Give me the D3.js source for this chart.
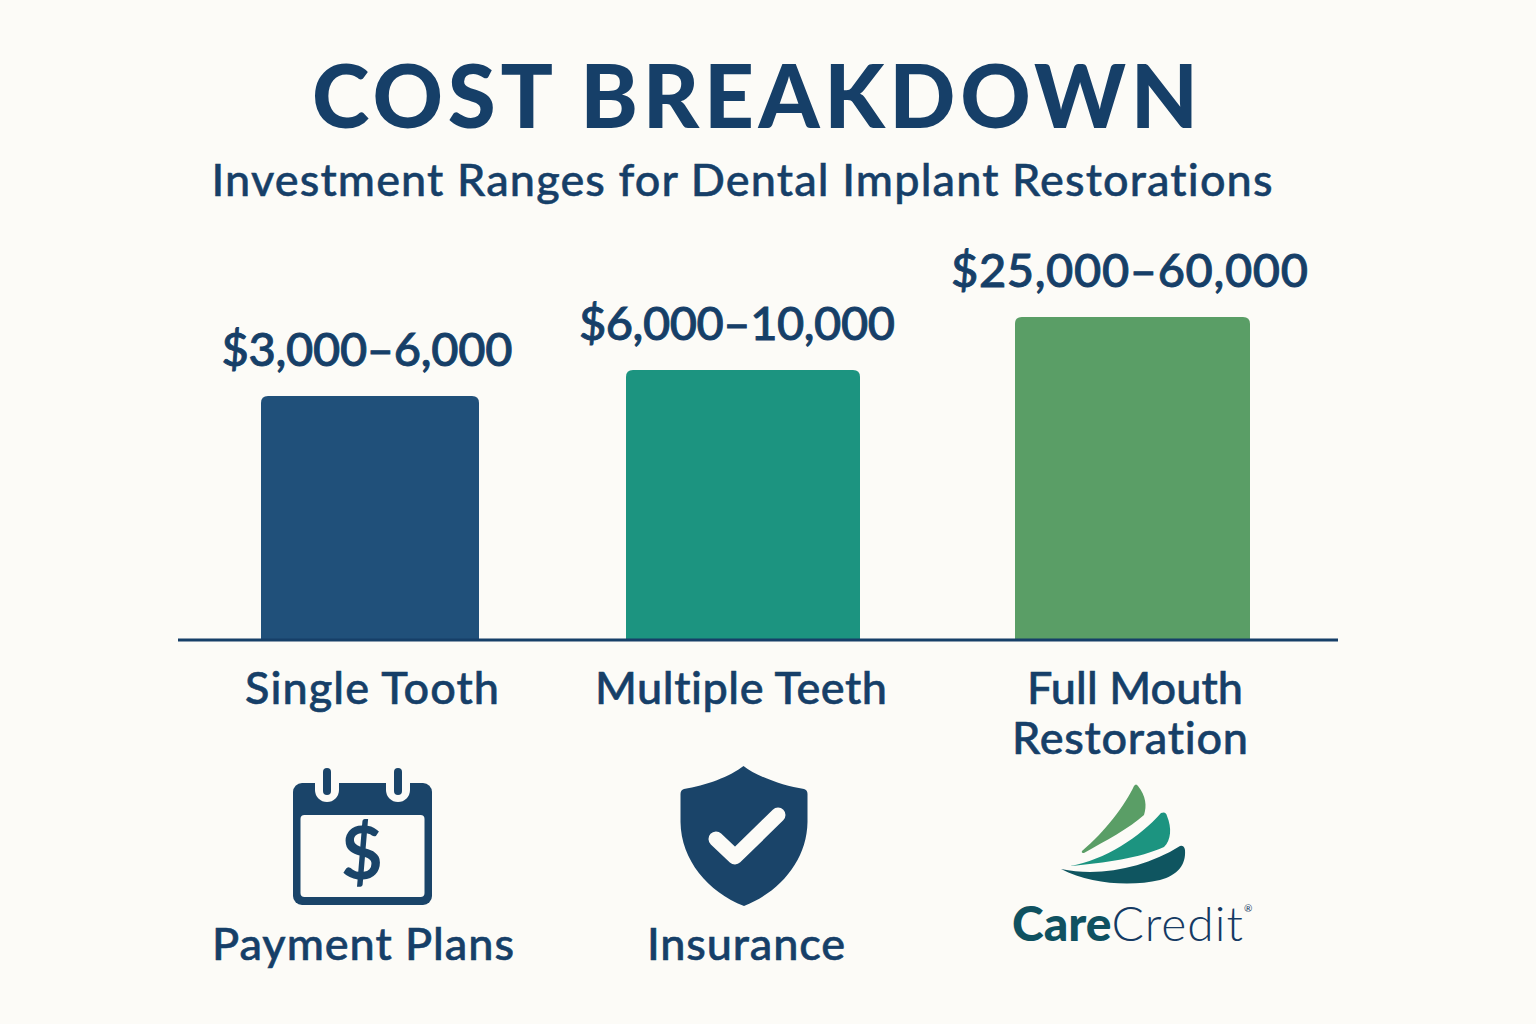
<!DOCTYPE html>
<html><head><meta charset="utf-8">
<script src="https://cdn.jsdelivr.net/npm/d3@7"></script>
<style>html,body{margin:0;padding:0;background:#fcfbf7}svg{display:block}text{font-family:Lato,"Noto Sans",sans-serif;font-variant-ligatures:none;font-feature-settings:"liga" 0}</style>
</head><body><svg id="c" width="1536" height="1024"></svg>
<script>
const titleText = "COST BREAKDOWN";
const subtitleText = "Investment Ranges for Dental Implant Restorations";
const categories = ["Single Tooth","Multiple Teeth","Full Mouth"];
const categoryLines = [["Single Tooth"],["Multiple Teeth"],["Full Mouth","Restoration"]];
const rangeLabels = ["$3,000–6,000","$6,000–10,000","$25,000–60,000"];
const barHeights = [243,269,322]; // relative bar height as drawn; not proportional to dollars
const barColors = ["#20507a","#1c9480","#5a9e66"];
const footerLabels = ["Payment Plans","Insurance"];

const NAVY="#163f68", BG="#fcfbf7";
const svg=d3.select("#c");
svg.append("rect").attr("width",1536).attr("height",1024).attr("fill",BG);

function label(x,y,str,size,weight,len,thick){
  return svg.append("text").attr("x",x).attr("y",y).attr("text-anchor","middle")
    .attr("font-size",size).attr("font-weight",weight).attr("fill",NAVY)
    .attr("stroke",NAVY).attr("stroke-width",thick||0)
    .attr("textLength",len).attr("lengthAdjust","spacing").text(str);
}
label(755,128,titleText,87,900,886,0);
label(742,196,subtitleText,45,500,1061,0.5);

const xLeft=d3.scaleOrdinal().domain(categories).range([261,626,1015]);
const xRight=d3.scaleOrdinal().domain(categories).range([479,860,1250]);
const y=d3.scaleLinear().domain([0,322]).range([639,317]);
const base=y(0);

categories.forEach((c,i)=>{
  const x0=xLeft(c),x1=xRight(c),t=y(barHeights[i]),r=7;
  svg.append("path").attr("fill",barColors[i])
   .attr("d",`M${x0},${base}V${t+r}Q${x0},${t} ${x0+r},${t}H${x1-r}Q${x1},${t} ${x1},${t+r}V${base}Z`);
});
svg.append("line").attr("x1",178).attr("x2",1338).attr("y1",base+1).attr("y2",base+1).attr("stroke",NAVY).attr("stroke-width",3);

const labelCx=[367,737,1129.5], labelLen=[291,316,357];
rangeLabels.forEach((s,i)=>label(labelCx[i],y(barHeights[i])-30,s,47,500,labelLen[i],0.9));

const catCx=[[372],[741],[1135,1130]], catLen=[[254],[292],[216,236]];
categoryLines.forEach((ls,i)=>ls.forEach((s,j)=>label(catCx[i][j],704+j*50,s,45,500,catLen[i][j],0.6)));

label(363,960,footerLabels[0],45,500,302,0.6);
label(746,960,footerLabels[1],45,500,198,0.6);

// calendar icon
const ICON="#1a4469";
const cal=svg.append("g");
cal.append("rect").attr("x",293).attr("y",783).attr("width",139).attr("height",122).attr("rx",9).attr("fill",ICON);
cal.append("rect").attr("x",300.5).attr("y",815).attr("width",124).attr("height",82).attr("rx",4).attr("fill",BG);
[327,398].forEach(cx=>{
  cal.append("path").attr("fill",BG).attr("d",`M${cx-12},780V790A12,12 0 0 0 ${cx+12},790V780Z`);
  cal.append("rect").attr("x",cx-4).attr("y",768).attr("width",8).attr("height",27).attr("rx",4).attr("fill",ICON);
});
svg.append("text").attr("x",362).attr("y",879).attr("text-anchor","middle").attr("font-size",72).attr("font-weight",700).attr("fill",ICON).text("$");

// shield icon
svg.append("path").attr("fill",ICON)
 .attr("d","M743.5,766C731,776 705,786 684,789Q680.5,790 680.5,794V822C681,860 708,892 744,906C780,892 807,860 807.5,822V794Q807.5,790 804,789C783,786 756,776 743.5,766Z");
svg.append("path").attr("fill","none").attr("stroke",BG).attr("stroke-width",15).attr("stroke-linecap","round").attr("stroke-linejoin","round")
 .attr("d","M716,839L735,857L778,815");

// CareCredit logo
svg.append("path").attr("fill","#5a9e66").attr("d","M1082,851C1105,832 1125,805 1134,786Q1136,783 1138,786C1146,796 1147,806 1144,815C1130,828 1105,841 1084,853Q1081,853 1082,851Z");
svg.append("path").attr("fill","#1c9480").attr("d","M1070,866C1105,860 1140,837 1161,813Q1166,811 1167,816C1172,828 1171,840 1164,847C1140,858 1105,863 1070,866Z");
svg.append("path").attr("fill","#0f5560").attr("d","M1061,869C1100,877 1145,868 1180,846Q1184,845 1185,850C1186,865 1178,875 1160,880C1130,887 1090,884 1061,869Z");
const logo=svg.append("text").attr("x",1012).attr("y",941).attr("font-size",48);
logo.append("tspan").attr("font-weight",900).attr("fill","#0f5160").text("Care");
logo.append("tspan").attr("font-weight",300).attr("fill","#153a63").attr("letter-spacing",1).text("Credit");
logo.append("tspan").attr("font-size",10).attr("dy",-29).attr("fill","#153a63").text("®");
</script></body></html>
